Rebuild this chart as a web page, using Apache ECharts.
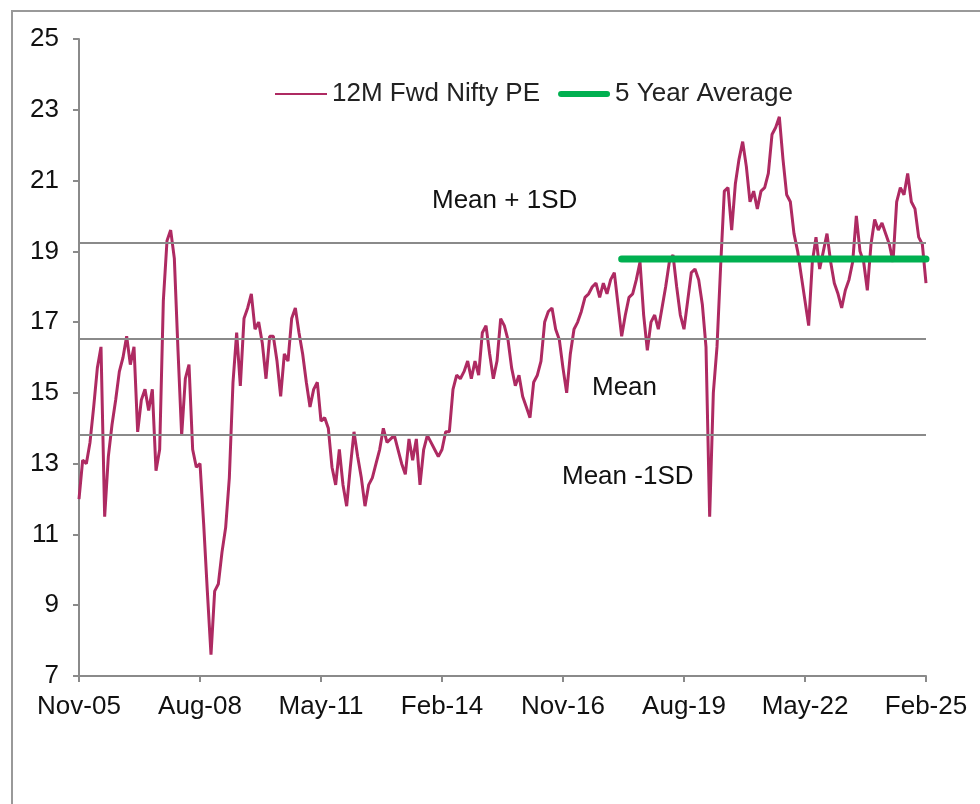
<!DOCTYPE html>
<html>
<head>
<meta charset="utf-8">
<style>html,body{margin:0;padding:0;width:980px;height:804px;background:#fff;overflow:hidden;}#chart{width:980px;height:804px;}</style>
<script src="https://cdn.jsdelivr.net/npm/echarts@6/dist/echarts.min.js"></script>
</head>
<body>
<div id="chart"></div>
<script>
// monthly values, index 0 = Nov-05, index 231 = Feb-25
var peValues = [
  12.0, 13.1, 13.0, 13.6, 14.6, 15.7, 16.3, 11.5, 13.2, 14.1, 14.8, 15.6,
  16.0, 16.6, 15.8, 16.3, 13.9, 14.8, 15.1, 14.5, 15.1, 12.8, 13.4, 17.6,
  19.3, 19.6, 18.8, 16.2, 13.8, 15.4, 15.8, 13.4, 12.9, 13.0, 11.3, 9.4,
  7.6, 9.4, 9.6, 10.5, 11.2, 12.6, 15.3, 16.7, 15.2, 17.1, 17.4, 17.8,
  16.8, 17.0, 16.4, 15.4, 16.6, 16.6, 15.9, 14.9, 16.1, 15.9, 17.1, 17.4,
  16.7, 16.1, 15.3, 14.6, 15.1, 15.3, 14.2, 14.3, 14.0, 12.9, 12.4, 13.4,
  12.4, 11.8, 12.9, 13.9, 13.2, 12.6, 11.8, 12.4, 12.6, 13.0, 13.4, 14.0,
  13.6, 13.7, 13.8, 13.4, 13.0, 12.7, 13.7, 13.1, 13.7, 12.4, 13.4, 13.8,
  13.6, 13.4, 13.2, 13.4, 13.9, 13.9, 15.1, 15.5, 15.4, 15.6, 15.9, 15.4,
  15.9, 15.5, 16.7, 16.9, 16.1, 15.4, 15.9, 17.1, 16.9, 16.5, 15.7, 15.2,
  15.5, 14.9, 14.6, 14.3, 15.3, 15.5, 15.9, 17.0, 17.3, 17.4, 16.8, 16.5,
  15.7, 15.0, 16.1, 16.8, 17.0, 17.3, 17.7, 17.8, 18.0, 18.1, 17.7, 18.1,
  17.8, 18.2, 18.4, 17.5, 16.6, 17.2, 17.7, 17.8, 18.2, 18.7, 17.2, 16.2,
  17.0, 17.2, 16.8, 17.4, 18.0, 18.7, 18.9, 18.0, 17.2, 16.8, 17.6, 18.4,
  18.5, 18.2, 17.5, 16.3, 11.5, 15.0, 16.3, 18.6, 20.7, 20.8, 19.6, 20.9,
  21.6, 22.1, 21.4, 20.4, 20.7, 20.2, 20.7, 20.8, 21.2, 22.3, 22.5, 22.8,
  21.6, 20.6, 20.4, 19.5, 19.0, 18.3, 17.6, 16.9, 18.7, 19.4, 18.5, 19.0,
  19.5, 18.7, 18.1, 17.8, 17.4, 17.9, 18.2, 18.7, 20.0, 19.0, 18.7, 17.9,
  19.2, 19.9, 19.6, 19.8, 19.5, 19.2, 18.7, 20.4, 20.8, 20.6, 21.2, 20.4,
  20.2, 19.4, 19.2, 18.1
];

var tickLabels = ['Nov-05', 'Aug-08', 'May-11', 'Feb-14', 'Nov-16', 'Aug-19', 'May-22', 'Feb-25'];
var tickStep = 33; // months between labels

var meanPlus1SD = 19.24;
var meanPE = 16.52;
var meanMinus1SD = 13.81;

var avgStart = 148; // Mar-18
var avgEnd = 231;
var avgValue = 18.78;

var fontName = '"Liberation Sans", Arial, sans-serif';
var axisGrey = '#8a8a8a';
var peColor = '#ae2a62';
var avgColor = '#00b050';

var chart = echarts.init(document.getElementById('chart'), null, { renderer: 'canvas' });

chart.setOption({
  animation: false,
  backgroundColor: '#fff',
  textStyle: { fontFamily: fontName },
  grid: { left: 79, right: 54, top: 39, bottom: 128 },
  legend: {
    left: 270,
    top: 76,
    itemWidth: 52,
    itemHeight: 14,
    itemGap: 18,
    textStyle: { fontFamily: fontName, fontSize: 26, color: '#222' },
    data: [
      { name: '12M Fwd Nifty PE', icon: 'path://M0,0H52V2H0Z' },
      { name: '5 Year Average', icon: 'path://M3,0H49A3,3 0 0 1 49,6H3A3,3 0 0 1 3,0Z' }
    ]
  },
  xAxis: {
    type: 'value',
    min: 0,
    max: tickStep * (tickLabels.length - 1),
    interval: tickStep,
    axisLine: { lineStyle: { color: axisGrey, width: 2 } },
    axisTick: { show: true, length: 6, lineStyle: { color: axisGrey, width: 2 } },
    splitLine: { show: false },
    axisLabel: {
      color: '#111',
      fontSize: 26,
      fontFamily: fontName,
      margin: 18,
      formatter: function (v) { return tickLabels[Math.round(v / tickStep)]; }
    }
  },
  yAxis: {
    type: 'value',
    min: 7,
    max: 25,
    interval: 2,
    axisLine: { show: true, lineStyle: { color: axisGrey, width: 2 } },
    axisTick: { show: true, length: 6, lineStyle: { color: axisGrey, width: 2 } },
    splitLine: { show: false },
    axisLabel: { color: '#111', fontSize: 26, fontFamily: fontName, margin: 20 }
  },
  series: [
    {
      name: '12M Fwd Nifty PE',
      type: 'line',
      showSymbol: false,
      symbol: 'none',
      data: peValues.map(function (v, i) { return [i, v]; }),
      lineStyle: { color: peColor, width: 3 },
      itemStyle: { color: peColor },
      markLine: {
        silent: true,
        symbol: 'none',
        label: { show: false },
        lineStyle: { color: axisGrey, width: 2, type: 'solid' },
        data: [{ yAxis: meanPlus1SD }, { yAxis: meanPE }, { yAxis: meanMinus1SD }]
      }
    },
    {
      name: '5 Year Average',
      type: 'line',
      showSymbol: false,
      symbol: 'none',
      data: [[avgStart, avgValue], [avgEnd, avgValue]],
      lineStyle: { color: avgColor, width: 7, cap: 'round' },
      itemStyle: { color: avgColor }
    }
  ],
  graphic: [
    { type: 'rect', shape: { x: 12, y: 11, width: 1000, height: 1000 }, style: { fill: 'none', stroke: '#999', lineWidth: 2 }, silent: true },
    { type: 'text', left: 432, top: 188, style: { text: 'Mean + 1SD', font: '26px ' + fontName, fill: '#111' } },
    { type: 'text', left: 592, top: 375, style: { text: 'Mean', font: '26px ' + fontName, fill: '#111' } },
    { type: 'text', left: 562, top: 464, style: { text: 'Mean -1SD', font: '26px ' + fontName, fill: '#111' } }
  ]
});
</script>
</body>
</html>
